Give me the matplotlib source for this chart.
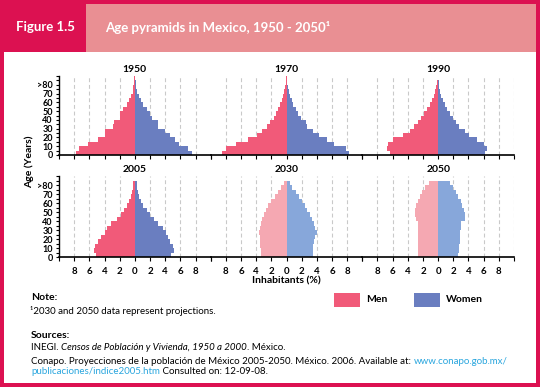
#!/usr/bin/env python3

import matplotlib
matplotlib.use('Agg')
import matplotlib.pyplot as plt
from matplotlib.patches import Rectangle

# ------------------------------------------
# Data (% of total population, 5-year age groups)
# ------------------------------------------
ages_top = list(range(0, 90, 5))      # 1950, 1970, 1990
ages_bottom = list(range(0, 85, 5))   # 2005, 2030, 2050 (last group 80+)

men_1950 = [7.7, 7.3, 6.2, 4.8, 3.9, 3.9, 2.9, 2.7, 2.0, 2.0, 1.5, 1.05, 0.75, 0.5, 0.3, 0.18, 0.1, 0.1]
women_1950 = [7.6, 7.0, 5.8, 5.3, 4.7, 4.0, 3.0, 3.0, 2.2, 2.0, 1.6, 1.05, 0.8, 0.5, 0.3, 0.15, 0.13, 0.05]

men_1970 = [8.5, 8.0, 6.7, 5.1, 3.9, 3.2, 2.6, 2.2, 1.67, 1.45, 1.1, 0.8, 0.57, 0.48, 0.3, 0.2, 0.13, 0.09]
women_1970 = [8.2, 7.85, 6.3, 5.3, 4.3, 3.55, 2.75, 2.6, 1.93, 1.5, 1.18, 0.9, 0.7, 0.5, 0.3, 0.18, 0.12, 0.08]

men_1990 = [6.4, 6.7, 6.6, 5.9, 4.6, 3.7, 3.2, 2.7, 2.2, 1.8, 1.45, 1.1, 0.83, 0.57, 0.4, 0.22, 0.13, 0.0]
women_1990 = [6.2, 6.4, 6.1, 5.1, 4.1, 3.5, 2.8, 2.4, 1.9, 1.6, 1.2, 0.92, 0.66, 0.4, 0.2, 0.1, 0.05, 0.0]

men_2005 = [5.1, 5.4, 5.3, 4.9, 4.4, 4.0, 3.7, 3.1, 2.4, 1.85, 1.4, 1.05, 0.8, 0.53, 0.35, 0.26, 0.18]
women_2005 = [4.8, 5.1, 5.0, 4.7, 4.4, 4.1, 3.7, 3.1, 2.5, 2.0, 1.55, 1.1, 0.8, 0.57, 0.4, 0.26, 0.26]

men_2030 = [3.4, 3.4, 3.45, 3.5, 3.55, 3.6, 3.5, 3.35, 3.2, 3.0, 2.75, 2.45, 2.1, 1.55, 1.1, 0.7, 0.4]
women_2030 = [3.45, 3.45, 3.5, 3.6, 3.8, 3.95, 3.8, 3.6, 3.4, 3.1, 2.75, 2.4, 2.05, 1.6, 1.2, 0.75, 0.5]

men_2050 = [2.65, 2.65, 2.65, 2.65, 2.7, 2.7, 2.7, 2.7, 2.9, 3.1, 3.1, 2.9, 2.7, 2.45, 2.15, 1.7, 1.15]
women_2050 = [2.65, 2.7, 2.8, 2.85, 2.9, 2.9, 2.95, 3.0, 3.5, 3.55, 3.35, 3.15, 2.95, 2.6, 2.4, 1.9, 1.6]

panels = [
    ('1950', ages_top, men_1950, women_1950, False),
    ('1970', ages_top, men_1970, women_1970, False),
    ('1990', ages_top, men_1990, women_1990, False),
    ('2005', ages_bottom, men_2005, women_2005, False),
    ('2030', ages_bottom, men_2030, women_2030, True),
    ('2050', ages_bottom, men_2050, women_2050, True),
]

x_ticks = list(range(-10, 12, 2))
x_ticklabels = ['', '8', '6', '4', '2', '0', '2', '4', '6', '8', '']
y_ticks = list(range(0, 90, 10))
y_ticklabels = ['0', '10', '20', '30', '40', '50', '60', '70', '>80']

# ------------------------------------------
# Style
# ------------------------------------------
W, H = 540, 387
CRIMSON = '#dc1151'
HEADER_PINK = '#e98f93'
MEN = '#f15a79'
WOMEN = '#6a7ec0'
MEN_PROJ = '#f5a8b2'
WOMEN_PROJ = '#87a7da'
LINK = '#2aa6de'

plt.rcParams['font.family'] = ['Lato', 'DejaVu Sans']


def px_rect(fig, x, y, w, h, color):
    # rectangle given in pixel coords from the top-left corner
    fig.add_artist(Rectangle((x / W, 1 - (y + h) / H), w / W, h / H,
                             transform=fig.transFigure, color=color,
                             lw=0, zorder=0))


def px_text(fig, x, y, s, **kw):
    return fig.text(x / W, 1 - y / H, s, **kw)


def runs(fig, x, y, parts, size):
    # draw text runs one after the other on the same baseline
    fig.canvas.draw()
    r = fig.canvas.get_renderer()
    for s, style, color in parts:
        t = px_text(fig, x, y, s, fontsize=size, color=color, style=style,
                    va='center', ha='left')
        x += t.get_window_extent(renderer=r).width


def main():

    fig = plt.figure(figsize=(W / 100, H / 100), dpi=100)

    # frame and header
    px_rect(fig, 0, 0, W, H, CRIMSON)
    px_rect(fig, 4, 52, 532, 331, 'white')
    px_rect(fig, 86, 4, 450, 48, HEADER_PINK)
    px_text(fig, 45, 27, 'Figure 1.5', color='white', fontsize=9.5,
            fontweight='bold', ha='center', va='center')
    px_text(fig, 105, 27, 'Age pyramids in Mexico, 1950 - 2050\u00b9',
            color='white', fontsize=9.5, fontweight='bold', ha='left',
            va='center')

    # pyramids
    col_left = [59, 210.7, 362.3]
    col_w = 151.7
    rows = [(155, 79), (257.3, 81)]
    for i, (year, ages, men, women, proj) in enumerate(panels):
        r, c = divmod(i, 3)
        base, hgt = rows[r]
        ax = fig.add_axes([col_left[c] / W, 1 - base / H, col_w / W, hgt / H])
        ax.set_facecolor('none')
        ax.set_xlim(-10, 10)
        ax.set_ylim(0, 90)

        grid_x = [g for g in x_ticks if g not in (0, -10, 10)]
        if c == 2:
            grid_x.append(10)
        for g in grid_x:
            ax.axvline(g, color='#c9c9c9', lw=0.8, ls=(0, (3.5, 2.5)), zorder=0)

        ax.barh(ages, [-m for m in men], height=5, align='edge',
                color=MEN_PROJ if proj else MEN, lw=0, zorder=2)
        ax.barh(ages, women, height=5, align='edge',
                color=WOMEN_PROJ if proj else WOMEN, lw=0, zorder=2)

        ax.set_title(year, fontsize=7.5, fontweight='bold', pad=3)

        for s in ['top', 'right']:
            ax.spines[s].set_visible(False)
        ax.spines['bottom'].set_linewidth(1.2)
        ax.spines['bottom'].set_zorder(3)
        ax.set_xticks(x_ticks)
        ax.tick_params(axis='x', length=3, width=0.8, pad=4)
        if r == 1:
            ax.set_xticklabels(x_ticklabels, fontsize=7, fontweight='bold')
        else:
            ax.set_xticklabels([])

        if c == 0:
            ax.spines['left'].set_linewidth(1)
            ax.set_yticks(y_ticks)
            ax.set_yticks(list(range(5, 95, 5)), minor=True)
            ax.set_yticklabels(y_ticklabels, fontsize=6.5, fontweight='bold')
            ax.tick_params(axis='y', which='both', length=2.5, width=0.8, pad=2)
        else:
            ax.spines['left'].set_visible(False)
            ax.set_yticks([])

    px_text(fig, 29, 162, 'Age (Years)', rotation=90, fontsize=7.5,
            fontweight='bold', ha='center', va='center')
    px_text(fig, 286, 281, 'Inhabitants (%)', fontsize=7.5, fontweight='bold',
            ha='center', va='center')

    # legend
    px_rect(fig, 334, 293, 26, 14, MEN)
    px_text(fig, 366, 300, 'Men', fontsize=7.5, fontweight='bold', va='center')
    px_rect(fig, 414, 293, 26, 14, WOMEN)
    px_text(fig, 446, 300, 'Women', fontsize=7.5, fontweight='bold', va='center')

    # notes and sources
    px_text(fig, 31, 298, 'Note:', fontsize=7.5, fontweight='bold', va='center')
    px_text(fig, 30, 311, '\u00b92030 and 2050 data represent projections.',
            fontsize=7, va='center')
    px_text(fig, 31, 335, 'Sources:', fontsize=7.5, fontweight='bold', va='center')
    runs(fig, 31, 348, [('INEGI. ', 'normal', 'black'),
                        ('Censos de Población y Vivienda, 1950 a 2000', 'italic', 'black'),
                        ('. México.', 'normal', 'black')], 7)
    runs(fig, 31, 361, [('Conapo. Proyecciones de la población de México 2005-2050. '
                         'México. 2006. Available at: ', 'normal', 'black'),
                        ('www.conapo.gob.mx/', 'normal', LINK)], 7)
    runs(fig, 31, 372, [('publicaciones/indice2005.htm', 'normal', LINK),
                        (' Consulted on: 12-09-08.', 'normal', 'black')], 7)

    fig.savefig('out.png', dpi=100)


if __name__ == "__main__":
    main()
